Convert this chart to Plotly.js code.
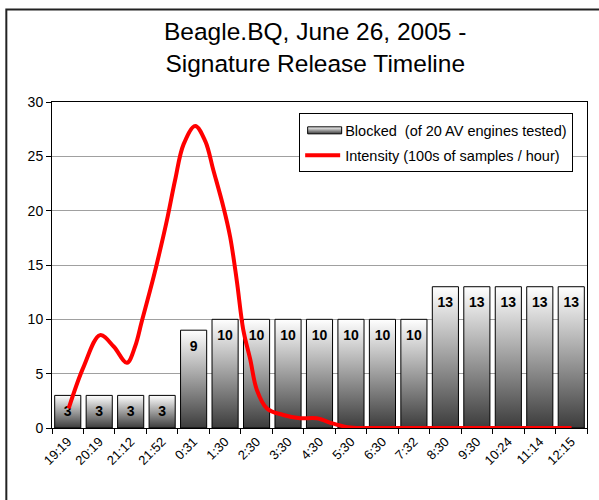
<!DOCTYPE html>
<html>
<head>
<meta charset="utf-8">
<script src="https://cdn.plot.ly/plotly-3.0.1.min.js"></script>
<style>html,body{margin:0;padding:0;background:#fff;} #chart{width:599px;height:500px;}</style>
</head>
<body>
<div id="chart"></div>
<script>
// Category labels (x axis)
const categories = ["19:19","20:19","21:12","21:52","0:31","1:30","2:30","3:30","4:30","5:30","6:30","7:32","8:30","9:30","10:24","11:14","12:15"];
// Blocked (of 20 AV engines tested)
const blocked = [3,3,3,3,9,10,10,10,10,10,10,10,13,13,13,13,13];
// Intensity (100s of samples / hour)
const intensityX = [0.03,0.5,1.03,1.46,1.88,2.14,2.36,2.62,2.83,3.15,3.41,3.68,4.05,4.37,4.63,4.95,5.16,5.37,5.58,5.80,6.01,6.33,6.85,7.38,7.91,8.44,8.97,10,11,12,13,14,15,16.01];
const intensityY = [1.8,5.6,8.55,7.5,6.0,7.5,9.9,12.7,15.1,19.1,22.8,26.1,27.8,26.4,23.7,20.3,17.6,13.6,9.0,6.3,3.5,1.8,1.2,0.9,0.9,0.4,0.05,0,0,0,0,0,0,0];
const yTicks = [0,5,10,15,20,25,30];

const font = "Arial, 'Liberation Sans', sans-serif";

const traces = [
  {
    type: "bar",
    name: "Blocked\u00a0 (of 20 AV engines tested)",
    legendgroup: "a",
    x: categories,
    y: blocked,
    text: blocked.map(String),
    textposition: "inside",
    insidetextanchor: "end",
    constraintext: "none",
    textangle: 0,
    textfont: {family: font, size: 14, color: "#000", weight: "bold"},
    insidetextfont: {family: font, size: 14, color: "#000", weight: "bold"},
    marker: {color: "#999", line: {color: "#000", width: 1}},
    hoverinfo: "skip"
  },
  {
    type: "scatter",
    mode: "lines",
    name: "Intensity (100s of samples / hour)",
    legendgroup: "b",
    x: intensityX,
    y: intensityY,
    xaxis: "x2",
    line: {color: "#ff0000", width: 4, shape: "spline", smoothing: 1},
    hoverinfo: "skip"
  }
];

const layout = {
  width: 599, height: 500,
  margin: {l: 51.7, r: 12, t: 101.7, b: 71.7},
  paper_bgcolor: "#fff", plot_bgcolor: "#fff",
  font: {family: font, size: 14, color: "#000"},
  title: {
    text: "Beagle.BQ, June 26, 2005 -<br>Signature Release Timeline",
    font: {family: font, size: 24.5, color: "#000"},
    x: 0.492, xref: "paper", xanchor: "center",
    y: 0.92, yref: "container", yanchor: "top"
  },
  bargap: 0.17,
  showlegend: true,
  legend: {
    x: 0.462, y: 0.965, xanchor: "left", yanchor: "top",
    bgcolor: "#fff", bordercolor: "#000", borderwidth: 1,
    font: {family: font, size: 14.5, color: "#000"},
    itemwidth: 35, tracegroupgap: 3
  },
  xaxis: {
    type: "category",
    range: [-0.5, 16.5],
    tickson: "boundaries",
    ticks: "outside", ticklen: 5, tickcolor: "#000",
    showline: true, linecolor: "#000", linewidth: 1, mirror: true,
    showgrid: false, zeroline: false,
    tickangle: -45,
    tickfont: {family: font, size: 13, color: "#000"},
    fixedrange: true
  },
  xaxis2: {
    overlaying: "x", range: [-0.5, 16.5], visible: false, fixedrange: true
  },
  yaxis: {
    range: [0, 30], tickvals: yTicks,
    ticks: "outside", ticklen: 5, tickcolor: "#000",
    showline: true, linecolor: "#000", linewidth: 1, mirror: true,
    showgrid: true, gridcolor: "#a0a0a0", gridwidth: 1, zeroline: false,
    tickfont: {family: font, size: 14, color: "#000"},
    fixedrange: true
  },
  shapes: [
    {type: "rect", xref: "paper", yref: "paper",
     x0: (6 - 51.7) / 535.3, x1: 1.2, y0: -0.4, y1: (428.3 - 9) / 326.6,
     line: {color: "#222", width: 2}, fillcolor: "rgba(0,0,0,0)", layer: "below"}
  ]
};

const gdiv = document.getElementById("chart");
const ns = "http://www.w3.org/2000/svg";

function decorate() {
  const svg = gdiv.querySelector("svg.main-svg");
  if (!svg) return;
  let defs = svg.querySelector("defs");
  if (!defs) { defs = document.createElementNS(ns, "defs"); svg.insertBefore(defs, svg.firstChild); }
  if (!svg.querySelector("#barGrad")) {
    const grad = document.createElementNS(ns, "linearGradient");
    grad.setAttribute("id", "barGrad");
    grad.setAttribute("x1", "0"); grad.setAttribute("y1", "0");
    grad.setAttribute("x2", "0"); grad.setAttribute("y2", "1");
    [["0%", "#ffffff"], ["100%", "#3c3c3c"]].forEach(function (s) {
      const st = document.createElementNS(ns, "stop");
      st.setAttribute("offset", s[0]); st.setAttribute("stop-color", s[1]);
      grad.appendChild(st);
    });
    defs.appendChild(grad);
  }
  gdiv.querySelectorAll(".barlayer .point").forEach(function (pt) {
    const p = pt.querySelector("path");
    if (!p) return;
    p.style.fill = "url(#barGrad)";
    const t = pt.querySelector("text");
    if (!t) return;
    // place the value label centred, just below the top of its own bar
    const bb = p.getBBox();
    t.removeAttribute("transform");
    t.setAttribute("x", bb.x + bb.width / 2);
    t.setAttribute("y", bb.y + 20.5);
    t.setAttribute("text-anchor", "middle");
    t.style.fontSize = "14px";
    t.style.fontWeight = "bold";
    t.querySelectorAll("tspan").forEach(function (s) { s.removeAttribute("x"); s.removeAttribute("dy"); });
  });
  // legend bar symbol: wide bar-like rectangle
  const groups = gdiv.querySelectorAll(".legend .traces");
  if (groups.length) {
    groups[0].querySelectorAll(".legendpoints path").forEach(function (p) {
      p.setAttribute("d", "M-15,-3.5H19V3.5H-15Z");
      p.style.fill = "url(#barGrad)";
      p.style.stroke = "#000";
      p.style.strokeWidth = "1px";
    });
  }
}

Plotly.newPlot(gdiv, traces, layout, {staticPlot: true, displayModeBar: false}).then(function () {
  decorate();
  setTimeout(decorate, 50);
  setTimeout(decorate, 300);
});
</script>
</body>
</html>
